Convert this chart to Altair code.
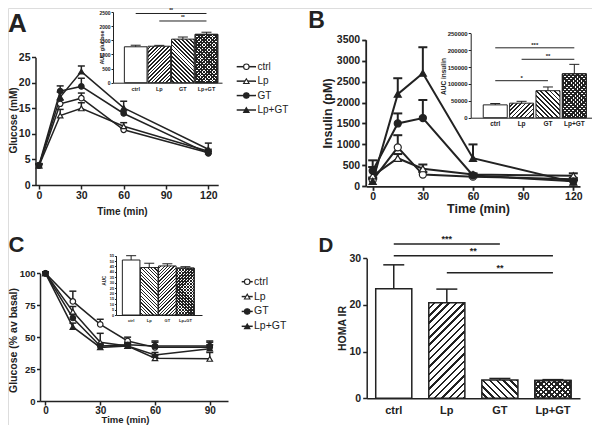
import altair as alt
import pandas as pd

W, H = 584, 417
M = 8
INK = "#222222"
FONT = "Liberation Sans"

GROUPS = ["ctrl", "Lp", "GT", "Lp+GT"]
SHAPES = ["circle", "triangle-up", "circle", "triangle-up"]
FILLS = ["white", "white", INK, INK]

# ---------------- Panel A: glucose tolerance ----------------
A_TIME = [0, 15, 30, 60, 120]
A_MEAN = {
    "ctrl": [3.8, 15.9, 17.0, 10.8, 6.3],
    "Lp": [3.8, 13.6, 15.0, 11.5, 6.6],
    "GT": [3.9, 18.4, 19.3, 14.0, 6.2],
    "Lp+GT": [3.8, 17.2, 22.2, 15.1, 7.0],
}
A_SEM = {
    "ctrl": [0.3, 0.7, 1.0, 0.4, 0.4],
    "Lp": [0.3, 1.2, 1.1, 0.7, 0.4],
    "GT": [0.3, 1.0, 1.6, 0.5, 0.4],
    "Lp+GT": [0.3, 1.0, 1.1, 1.3, 1.2],
}
A_AUC = [1270, 1290, 1540, 1710]
A_AUC_SEM = [55, 30, 75, 75]
A_SIG = [("ctrl", "Lp+GT", 2447, "**"), ("Lp", "Lp+GT", 2182, "**")]

# ---------------- Panel B: insulin ----------------
B_TIME = [0, 15, 30, 60, 120]
B_MEAN = {
    "ctrl": [150, 930, 280, 230, 170],
    "Lp": [250, 670, 420, 280, 250],
    "GT": [370, 1500, 1630, 260, 120],
    "Lp+GT": [120, 2200, 2700, 670, 100],
}
B_SEM = {
    "ctrl": [60, 290, 60, 30, 30],
    "Lp": [210, 100, 100, 30, 60],
    "GT": [250, 240, 430, 30, 30],
    "Lp+GT": [60, 380, 620, 330, 40],
}
B_AUC = [38000, 43000, 80000, 130000]
B_AUC_SEM = [4000, 5500, 11000, 28000]
B_SIG = [("ctrl", "Lp+GT", 207000, "***"), ("Lp", "Lp+GT", 173000, "**"),
         ("ctrl", "GT", 109600, "*")]

# ---------------- Panel C: insulin tolerance ----------------
C_TIME = [0, 15, 30, 45, 60, 90]
C_MEAN = {
    "ctrl": [100, 78, 60, 47, 42, 42],
    "Lp": [100, 70, 46, 43, 33.5, 33],
    "GT": [100, 65, 43, 44, 43, 43],
    "Lp+GT": [100, 58, 42, 43, 36, 41],
}
C_SEM = {
    "ctrl": [1, 8, 4, 3, 4, 4],
    "Lp": [1, 4, 7, 2, 2, 5],
    "GT": [1, 3, 2, 2, 4, 4],
    "Lp+GT": [1, 3, 2, 2, 2, 3],
}
C_AUC = [51, 44, 45.5, 43.5]
C_AUC_SEM = [4, 4, 2, 1.3]

# ---------------- Panel D: HOMA IR ----------------
D_HOMA = [23.5, 20.5, 3.9, 3.8]
D_SEM = [5.1, 2.9, 0.35, 0.2]
D_SIG = [("ctrl", "GT", 33.07, "***"), ("ctrl", "Lp+GT", 30.56, "**"),
         ("Lp", "Lp+GT", 26.9, "**")]


# ---------------- helpers ----------------
def lin(domain, p0, p1):
    return alt.Scale(type="linear", domain=domain, range=[p0 - M, p1 - M],
                     zero=False, nice=False)


def band(cfg):
    p0, p1, pi, po, al = cfg
    return alt.Scale(type="band", domain=GROUPS, range=[p0 - M, p1 - M],
                     paddingInner=pi, paddingOuter=po, align=al)


def band_geom(cfg, n=4):
    p0, p1, pi, po, al = cfg
    space = p1 - p0
    step = space / (n - pi + 2 * po)
    start = p0 + (space - step * (n - pi)) * al
    bw = step * (1 - pi)
    return bw, [start + step * i + bw / 2 for i in range(n)]


def axis(orient, pos, lf, ts, dw, values=None, title=None, tf=None, tx=None,
         ty=None, lpad=2, ticks=True, fmt=None, angle=None):
    d = dict(orient=orient, grid=False, labelFlush=False, labelOverlap=False,
             labelFont=FONT, labelFontSize=lf, labelFontWeight="bold",
             labelColor=INK, domainColor=INK, domainWidth=dw, tickColor=INK,
             tickWidth=dw, tickSize=ts, ticks=ticks, labelPadding=lpad)
    d["offset"] = (pos - M) - H if orient == "bottom" else -(pos - M)
    if values is not None:
        d["values"] = values
    if fmt is not None:
        d["format"] = fmt
    if angle is not None:
        d["labelAngle"] = angle
    if title:
        d.update(title=title, titleFont=FONT, titleFontSize=tf,
                 titleFontWeight="bold", titleColor=INK,
                 titleBaseline="middle", titleAlign="center")
        if orient == "bottom":
            d.update(titleX=tx - M, titleY=ty - pos)
        else:
            d.update(titleX=tx - pos, titleY=ty - M, titleAngle=270)
    else:
        d["title"] = None
    return alt.Axis(**d)


def shape_enc():
    return alt.Shape("g:N", scale=alt.Scale(domain=GROUPS, range=SHAPES), legend=None)


def fill_enc():
    return alt.Fill("g:N", scale=alt.Scale(domain=GROUPS, range=FILLS), legend=None)


def line_panel(time, means, sems, xs, ys, xax, yax, msize, sw, cap):
    rows = []
    for g in GROUPS:
        for t, m, s in zip(time, means[g], sems[g]):
            rows.append({"g": g, "t": t, "m": m, "hi": m + s})
    df = pd.DataFrame(rows)
    base = alt.Chart(df)
    xn = alt.X("t:Q", scale=xs, axis=None)
    yn = alt.Y("m:Q", scale=ys, axis=None)
    line = base.mark_line(color=INK, strokeWidth=sw).encode(
        x=alt.X("t:Q", scale=xs, axis=xax), y=alt.Y("m:Q", scale=ys, axis=yax),
        detail="g:N")
    err = base.mark_rule(color=INK, strokeWidth=sw).encode(x=xn, y=yn, y2="hi")
    caps = base.mark_rule(color=INK, strokeWidth=sw, xOffset=-cap, x2Offset=cap).encode(
        x=xn, x2="t", y=alt.Y("hi:Q", scale=ys, axis=None))
    pts = base.mark_point(filled=True, opacity=1, stroke=INK, strokeWidth=1.2,
                          size=msize).encode(x=xn, y=yn, shape=shape_enc(), fill=fill_enc())
    return [line, err, caps, pts]


def stripes(w, h, period, frac, direction, light="white", dark=INK):
    k = (w + h) / (w * w + h * h)
    gxv, gyv = w * k, h * k
    n = max(1, round((w + h) / (2 ** 0.5 * period)))
    stops = []
    for i in range(n):
        a, b, c = i / n, (i + 1 - frac) / n, (i + 1) / n
        stops += [{"offset": round(a, 5), "color": light},
                  {"offset": round(b, 5), "color": light},
                  {"offset": round(b, 5), "color": dark},
                  {"offset": round(c, 5), "color": dark}]
    if direction == "/":
        co = dict(x1=0, y1=0, x2=gxv, y2=gyv)
    else:
        co = dict(x1=0, y1=1, x2=gxv, y2=1 - gyv)
    return dict(gradient="linear", stops=stops, **co)


def pattern_set(p_lp, p_gt, p_x, f_lp, f_gt, f_x, d_lp="/", d_gt="\\"):
    return {
        "ctrl": lambda w, h: ["white"],
        "Lp": lambda w, h: [stripes(w, h, p_lp, f_lp, d_lp)],
        "GT": lambda w, h: [stripes(w, h, p_gt, f_gt, d_gt)],
        "Lp+GT": lambda w, h: [stripes(w, h, p_x, f_x, "/"),
                               stripes(w, h, p_x, f_x, "\\", light="rgba(255,255,255,0)")],
    }


def bar_panel(values, sems, sig, cfg, ydom, ypx, xax, yax, sw, cap, pats,
              star_fs, star_dy, sig_sw):
    xs = band(cfg)
    ys = lin(ydom, *ypx)
    bw, centers = band_geom(cfg)
    pxu = (ypx[0] - ypx[1]) / (ydom[1] - ydom[0])
    df = pd.DataFrame({"g": GROUPS, "i": list(range(4)), "v": values,
                       "hi": [v + s for v, s in zip(values, sems)]})
    layers = []
    for k, g in enumerate(GROUPS):
        h = max(values[k] * pxu, 1.0)
        for j, f in enumerate(pats[g](bw, h)):
            first = k == 0 and j == 0
            layers.append(
                alt.Chart(df).transform_filter(alt.datum.g == g)
                .mark_bar(fill=f, stroke=INK, strokeWidth=sw, opacity=1)
                .encode(x=alt.X("g:N", scale=xs, axis=xax if first else None),
                        y=alt.Y("v:Q", scale=ys, axis=yax if first else None)))
    xi = lin([0, 3], centers[0], centers[3])
    layers.append(alt.Chart(df).mark_rule(color=INK, strokeWidth=sw).encode(
        x=alt.X("i:Q", scale=xi, axis=None), y=alt.Y("v:Q", scale=ys, axis=None), y2="hi"))
    layers.append(alt.Chart(df).mark_rule(color=INK, strokeWidth=sw, xOffset=-cap,
                                          x2Offset=cap).encode(
        x=alt.X("i:Q", scale=xi, axis=None), x2="i", y=alt.Y("hi:Q", scale=ys, axis=None)))
    if sig:
        sdf = pd.DataFrame({"i1": [GROUPS.index(s[0]) for s in sig],
                            "i2": [GROUPS.index(s[1]) for s in sig],
                            "y": [s[2] for s in sig], "lab": [s[3] for s in sig]})
        sdf["mid"] = (sdf["i1"] + sdf["i2"]) / 2
        layers.append(alt.Chart(sdf).mark_rule(color=INK, strokeWidth=sig_sw).encode(
            x=alt.X("i1:Q", scale=xi, axis=None), x2="i2",
            y=alt.Y("y:Q", scale=ys, axis=None)))
        layers.append(alt.Chart(sdf).mark_text(font=FONT, fontSize=star_fs, fontWeight="bold",
                                               color=INK, baseline="alphabetic",
                                               dy=star_dy).encode(
            x=alt.X("mid:Q", scale=xi, axis=None), y=alt.Y("y:Q", scale=ys, axis=None),
            text="lab:N"))
    return layers


def legend(x0, x1, xt, y0, y1, fs, msize, sw):
    ldf = pd.DataFrame({"g": GROUPS})
    ysc = alt.Scale(type="point", domain=GROUPS, range=[y0 - M, y1 - M], padding=0)
    yy = alt.Y("g:N", scale=ysc, axis=None)
    rule = alt.Chart(ldf).mark_rule(color=INK, strokeWidth=sw).encode(
        x=alt.value(x0 - M), x2=alt.value(x1 - M), y=yy)
    pt = alt.Chart(ldf).mark_point(filled=True, opacity=1, stroke=INK, strokeWidth=1.1,
                                   size=msize).encode(
        x=alt.value((x0 + x1) / 2 - M), y=yy, shape=shape_enc(), fill=fill_enc())
    txt = alt.Chart(ldf).mark_text(font=FONT, fontSize=fs, color=INK, align="left",
                                   baseline="middle").encode(
        x=alt.value(xt - M), y=yy, text="g:N")
    return [rule, pt, txt]


def letter(ch, x, y, fs):
    return alt.Chart(pd.DataFrame({"t": [ch]})).mark_text(
        font=FONT, fontSize=fs, fontWeight="bold", color=INK, align="center",
        baseline="alphabetic").encode(x=alt.value(x - M), y=alt.value(y - M), text="t:N")


layers = []

# ---- A main ----
layers += line_panel(
    A_TIME, A_MEAN, A_SEM, lin([-2.5, 127], 35.5, 218.2), lin([0, 25], 185, 57.3),
    axis("bottom", 185, 10.5, 4, 1.5, values=[0, 30, 60, 90, 120], title="Time (min)",
         tf=10, tx=122, ty=211, lpad=1.5, fmt="d"),
    axis("left", 35.5, 10.5, 4, 1.5, values=[0, 5, 10, 15, 20, 25], title="Glucose (mM)",
         tf=10, tx=13, ty=120, lpad=1.5, fmt="d"),
    30, 1.5, 3.5)
# ---- A inset ----
A_CFG = (113, 222, 0.04, 0.33, 0.73)
layers += bar_panel(
    A_AUC, A_AUC_SEM, A_SIG, A_CFG, [0, 2500], (82.7, 12),
    axis("bottom", 82.7, 5.5, 2, 1, ticks=False, lpad=3.5, angle=0),
    axis("left", 113, 5, 2, 1, values=[0, 500, 1000, 1500, 2000, 2500], title="AUC glucose",
         tf=5.5, tx=101, ty=47, lpad=1, fmt="d"),
    1, 5, pattern_set(2.6, 2.8, 2.4, 0.45, 0.45, 0.5), 5, -1.5, 1)
layers += legend(236.7, 256, 257.5, 66.7, 110, 10, 30, 1.5)

# ---- B main ----
layers += line_panel(
    B_TIME, B_MEAN, B_SEM, lin([-4, 124], 366, 580), lin([0, 3500], 186.3, 39.7),
    axis("bottom", 186.3, 10.5, 4, 1.8, values=[0, 30, 60, 90, 120], title="Time (min)",
         tf=12.5, tx=478, ty=208.5, lpad=1, fmt="d"),
    axis("left", 365.7, 10.5, 4, 1.8, values=[0, 500, 1000, 1500, 2000, 2500, 3000, 3500],
         title="Insulin (pM)", tf=12.5, tx=327, ty=113, fmt="d"),
    50, 2, 4.5)
# ---- B inset ----
B_CFG = (470.7, 591.7, 0.09, 0.34, 0.7)
layers += bar_panel(
    B_AUC, B_AUC_SEM, B_SIG, B_CFG, [0, 250000], (117.7, 33.3),
    axis("bottom", 117.7, 6.5, 2, 1, ticks=False, lpad=2.5, angle=0),
    axis("left", 470.7, 6, 2.5, 1,
         values=[0, 50000, 100000, 150000, 200000, 250000], title="AUC insulin",
         tf=6.5, tx=443, ty=76, lpad=1, fmt="d"),
    1, 5, pattern_set(3.2, 3.2, 3.0, 0.4, 0.4, 0.5), 6, -1, 1)

# ---- C main ----
layers += line_panel(
    C_TIME, C_MEAN, C_SEM, lin([-3, 100], 40, 228), lin([0, 100], 401, 273.3),
    axis("bottom", 401, 10, 4, 1.5, values=[0, 30, 60, 90], title="Time (min)",
         tf=9.5, tx=125, ty=419, lpad=0.5, fmt="d"),
    axis("left", 40, 9.5, 3.5, 1.5, values=[0, 25, 50, 75, 100],
         title="Glucose (% av basal)", tf=10.5, tx=13.5, ty=340, lpad=1.5, fmt="d"),
    30, 1.5, 3.5)
# ---- C inset ----
C_CFG = (116, 202, 0.03, 0.39, 0.45)
layers += bar_panel(
    C_AUC, C_AUC_SEM, None, C_CFG, [0, 55], (315, 255.7),
    axis("bottom", 315, 4, 1.5, 1, ticks=False, lpad=3, angle=0),
    axis("left", 116, 3.8, 1.5, 1, values=list(range(0, 60, 5)), title="AUC",
         tf=4.5, tx=104, ty=280, lpad=1, fmt="d"),
    1, 5, pattern_set(2.4, 2.4, 2.2, 0.35, 0.35, 0.45, d_lp="\\", d_gt="/"),
    5, -1, 1)
layers += legend(241.7, 252.7, 254, 281.7, 326.3, 10.5, 30, 1.5)

# ---- D ----
D_CFG = (366.7, 580, 0.32, 0.17, 0.5)
layers += bar_panel(
    D_HOMA, D_SEM, D_SIG, D_CFG, [0, 30], (398.3, 258.3),
    axis("bottom", 398.3, 11, 4, 1.5, ticks=False, lpad=6, angle=0),
    axis("left", 366.7, 10.5, 4, 1.5, values=[0, 10, 20, 30], title="HOMA IR",
         tf=10.5, tx=342, ty=328, fmt="d"),
    1.5, 10.5, pattern_set(5.2, 5.0, 3.8, 0.33, 0.35, 0.45), 9, -2, 1.5)

# ---- panel letters ----
layers += [letter("A", 17.5, 31.7, 26), letter("B", 316.5, 28.3, 23),
           letter("C", 16.5, 251.7, 22), letter("D", 326, 251.7, 20.5)]

chart = (
    alt.layer(*layers)
    .resolve_scale(x="independent", y="independent")
    .properties(width=W, height=H, autosize="none", padding=0)
    .configure_view(strokeWidth=0)
    .configure(font=FONT)
)

chart.save("out.html", embed_options={"renderer": "svg", "actions": False})
